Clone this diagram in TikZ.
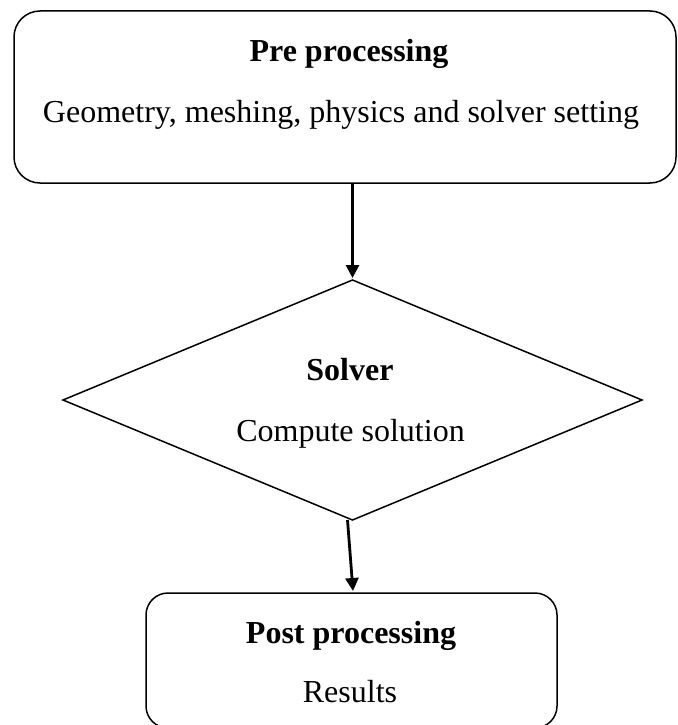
\documentclass[tikz,border=0pt]{standalone}
\usepackage{fontspec}
\setmainfont{Liberation Serif}
\usetikzlibrary{shapes.geometric,arrows.meta}
\begin{document}
\begin{tikzpicture}[x=1pt,y=-1pt,
  boxshape/.style={draw, line width=1.5pt, inner sep=0pt, outer sep=0pt},
  txt/.style={anchor=base, inner sep=0pt, font=\fontsize{32}{38}\selectfont},
  bold/.style={txt, font=\fontsize{32}{38}\selectfont\bfseries},
  flow/.style={line width=2.8pt, -{Triangle[width=13pt,length=13pt]}}]
\useasboundingbox (0,0) rectangle (677,725);
\node[boxshape, rounded corners=26pt, minimum width=662pt, minimum height=172pt] (pre) at (345,97) {};
\node[boxshape, shape=diamond, aspect=2.4125, minimum width=579pt, minimum height=240pt] (solver) at (352.5,400) {};
\node[boxshape, rounded corners=22pt, minimum width=411pt, minimum height=135pt] (post) at (351.5,660.5) {};
\node[bold] (pretitle) at (349,62) {Pre processing};
\node[txt] (pretext) at (341,122) {Geometry, meshing, physics and solver setting};
\node[bold] (soltitle) at (350,380) {Solver};
\node[txt] (soltext) at (350.5,441) {Compute solution};
\node[bold] (posttitle) at (351,643) {Post processing};
\node[txt] (posttext) at (350,702) {Results};
\draw[flow] (pre.south -| solver.north) -- ([yshift=2pt]solver.north);
\draw[flow] ([xshift=-5pt]solver.south) -- ([xshift=1.5pt,yshift=2pt]post.north);
\end{tikzpicture}
\end{document}
